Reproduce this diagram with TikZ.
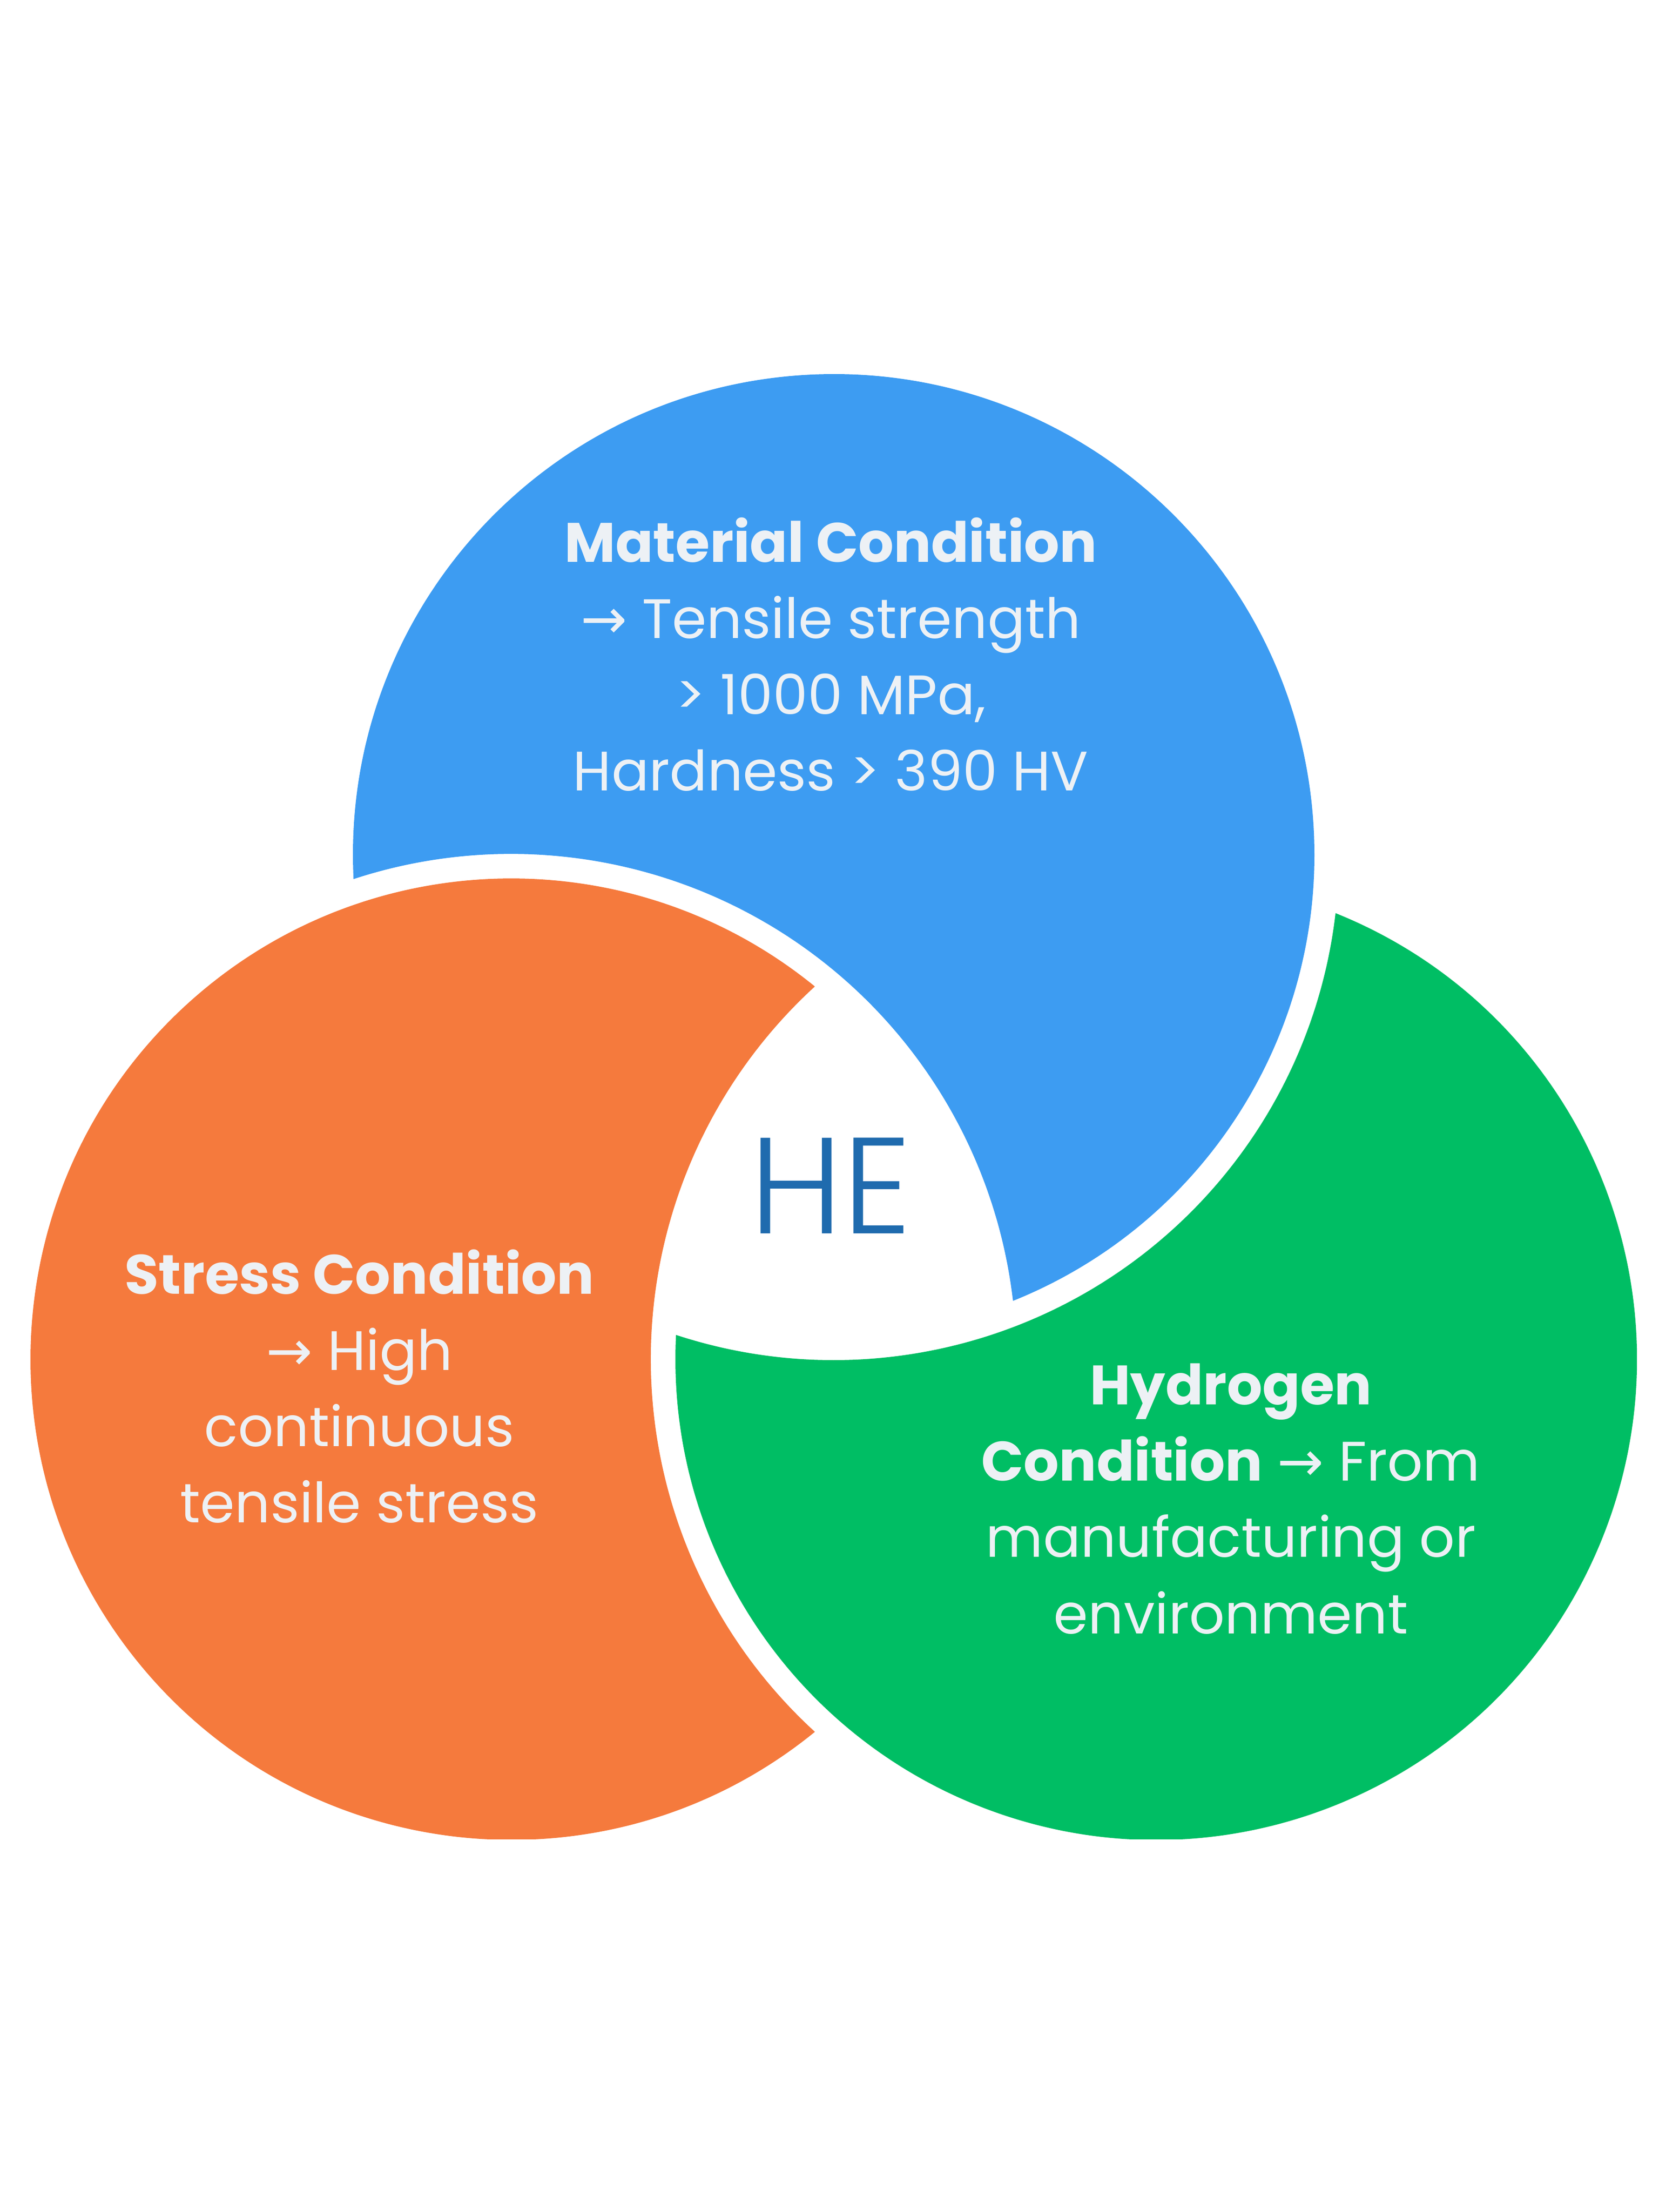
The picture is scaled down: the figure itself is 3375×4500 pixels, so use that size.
\documentclass[tikz,border=0pt]{standalone}
\usepackage{fontspec}
\setmainfont{Poppins}
\newfontfamily\arrowfont{DejaVu Sans}
\IfFontExistsTF{Poppins Light}{\newfontfamily\hefont{Poppins Light}}{\newfontfamily\hefont{Poppins}}
\newcommand\arr{\iffontchar\font"2192 \char"2192\else{\arrowfont\char"2192}\fi}
\definecolor{cblue}{HTML}{3D9CF2}
\definecolor{corange}{HTML}{F57A3D}
\definecolor{cgreen}{HTML}{00BE64}
\definecolor{chetext}{HTML}{1F6BAE}
\definecolor{ctext}{HTML}{EDF1F5}
\begin{document}
\begin{tikzpicture}[x=1pt,y=-1pt,
  lbl/.style={text=ctext, anchor=base, inner sep=0pt, font=\fontsize{113}{155}\selectfont},
  helbl/.style={text=chetext, anchor=base, inner sep=0pt, font=\hefont\fontsize{278}{300}\selectfont}]
\useasboundingbox (0,0) rectangle (3375,4500);
\fill[white] (0,0) rectangle (3375,4500);
\coordinate (B) at (1696,1739);
\coordinate (O) at (1040,2765);
\coordinate (G) at (2352,2765);
\begin{scope}
  \clip (62,0) rectangle (3330,3741);
  % blue: circle B minus disk O
  \fill[cblue] (B) ++(177.1:978) arc[start angle=177.1, end angle=428.1, radius=978]
    arc[start angle=-6.63, end angle=-108.17, radius=1028] -- cycle;
  % orange: circle O minus disk G
  \fill[corange] (O) ++(50.83:978) arc[start angle=50.83, end angle=309.17, radius=978]
    arc[start angle=227.52, end angle=132.48, radius=1028] -- cycle;
  % green: circle G minus disk B
  \fill[cgreen] (G) ++(291.91:978) arc[start angle=291.91, end angle=542.89, radius=978]
    arc[start angle=108.17, end angle=6.63, radius=1028] -- cycle;
\end{scope}
\node[lbl] (m1) at (1690,1143) {\bfseries Material Condition};
\node[lbl] (m2) at (1690,1298) {\arr{} Tensile strength};
\node[lbl] (m3) at (1690,1453) {> 1000 MPa,};
\node[lbl] (m4) at (1690,1608) {Hardness > 390 HV};
\node[lbl] (s1) at (731,2632) {\bfseries Stress Condition};
\node[lbl] (s2) at (731,2787) {\arr{} High};
\node[lbl] (s3) at (731,2942) {continuous};
\node[lbl] (s4) at (731,3097) {tensile stress};
\node[lbl] (h1) at (2504,2857) {\bfseries Hydrogen};
\node[lbl] (h2) at (2504,3012) {{\bfseries Condition} \arr{} From};
\node[lbl] (h3) at (2504,3167) {manufacturing or};
\node[lbl] (h4) at (2504,3323) {environment};
\node[helbl] (he) at (1690,2509) {HE};
\end{tikzpicture}
\end{document}
